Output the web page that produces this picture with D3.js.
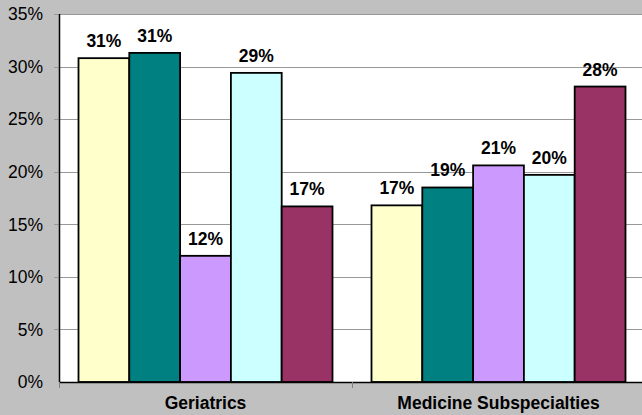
<!DOCTYPE html>
<html>
<head>
<meta charset="utf-8">
<script src="https://cdn.jsdelivr.net/npm/d3@7"></script>
<style>
  html, body { margin: 0; padding: 0; background: #c0c0c0; }
  svg { display: block; font-family: "Liberation Sans", Arial, sans-serif; }
</style>
</head>
<body>
<svg id="chart" width="642" height="415"></svg>
<script>
// Category groups along the x axis
const categories = ["Geriatrics", "Medicine Subspecialties"];
// Five series, one bar per group each (percent values)
const seriesKeys = ["s1", "s2", "s3", "s4", "s5"];
const seriesColors = ["#ffffcc", "#008080", "#cc99ff", "#ccffff", "#993366"];
const geriatricsValues = [30.8, 31.3, 12.0, 29.4, 16.7];
const subspecialtyValues = [16.8, 18.5, 20.6, 19.7, 28.1];
// Y axis ticks
const yTicks = [0, 5, 10, 15, 20, 25, 30, 35];

const valuesByCategory = [geriatricsValues, subspecialtyValues];
const rows = categories.map((c, i) => ({
  category: c,
  bars: seriesKeys.map((k, j) => ({ key: k, value: valuesByCategory[i][j], color: seriesColors[j] }))
}));

const svg = d3.select("#chart");
const plot = { left: 59, top: 14, right: 645, bottom: 382 };
const fontSize = "17.5px";

const x0 = d3.scaleBand().domain(categories).range([plot.left, plot.right]).padding(0);
const x1 = d3.scaleBand().domain(seriesKeys).range([0, x0.bandwidth()])
  .paddingInner(0).paddingOuter(0.384);
const y = d3.scaleLinear().domain([0, 35]).range([plot.bottom, plot.top]);

// Plot area background
svg.append("rect")
  .attr("x", plot.left).attr("y", plot.top)
  .attr("width", plot.right - plot.left).attr("height", plot.bottom - plot.top)
  .attr("fill", "#ffffff");

// Gridlines with short outer ticks on the left
svg.append("g").selectAll("line").data(yTicks.filter(t => t > 0)).join("line")
  .attr("x1", plot.left - 5).attr("x2", plot.right)
  .attr("y1", d => Math.round(y(d)) + 0.5).attr("y2", d => Math.round(y(d)) + 0.5)
  .attr("stroke", "#999999").attr("stroke-width", 1);

// Y tick labels
svg.append("g").selectAll("text").data(yTicks).join("text")
  .attr("x", 43).attr("y", d => y(d)).attr("dy", "0.36em")
  .attr("text-anchor", "end")
  .attr("font-size", fontSize).attr("fill", "#000")
  .text(d => d + "%");

// Bars
const groups = svg.append("g").selectAll("g").data(rows).join("g")
  .attr("transform", d => `translate(${x0(d.category)},0)`);

groups.selectAll("rect").data(d => d.bars).join("rect")
  .attr("x", d => x1(d.key))
  .attr("y", d => y(d.value))
  .attr("width", x1.bandwidth())
  .attr("height", d => y(0) - y(d.value))
  .attr("fill", d => d.color)
  .attr("stroke", "#000").attr("stroke-width", 1.8);

// Value labels above each bar
groups.selectAll("text").data(d => d.bars).join("text")
  .attr("x", d => x1(d.key) + x1.bandwidth() / 2)
  .attr("y", d => y(d.value) - 11)
  .attr("text-anchor", "middle")
  .attr("font-size", fontSize).attr("font-weight", "bold").attr("fill", "#000")
  .text(d => Math.round(d.value) + "%");

// Axis lines
svg.append("line")
  .attr("x1", plot.left + 0.5).attr("x2", plot.left + 0.5)
  .attr("y1", plot.top).attr("y2", plot.bottom)
  .attr("stroke", "#000").attr("stroke-width", 1.5);
svg.append("line")
  .attr("x1", plot.left).attr("x2", plot.right)
  .attr("y1", plot.bottom + 0.5).attr("y2", plot.bottom + 0.5)
  .attr("stroke", "#000").attr("stroke-width", 1.5);

// Category boundary ticks
const boundaries = categories.map(c => x0(c)).concat([plot.right]);
svg.append("g").selectAll("line").data(boundaries).join("line")
  .attr("x1", d => Math.round(d) + 0.5).attr("x2", d => Math.round(d) + 0.5)
  .attr("y1", plot.bottom).attr("y2", plot.bottom + 6)
  .attr("stroke", "#808080").attr("stroke-width", 1);

// Category labels
svg.append("g").selectAll("text").data(categories).join("text")
  .attr("x", d => x0(d) + x0.bandwidth() / 2)
  .attr("y", 409)
  .attr("text-anchor", "middle")
  .attr("font-size", fontSize).attr("font-weight", "bold").attr("fill", "#000")
  .text(d => d);
</script>
</body>
</html>
